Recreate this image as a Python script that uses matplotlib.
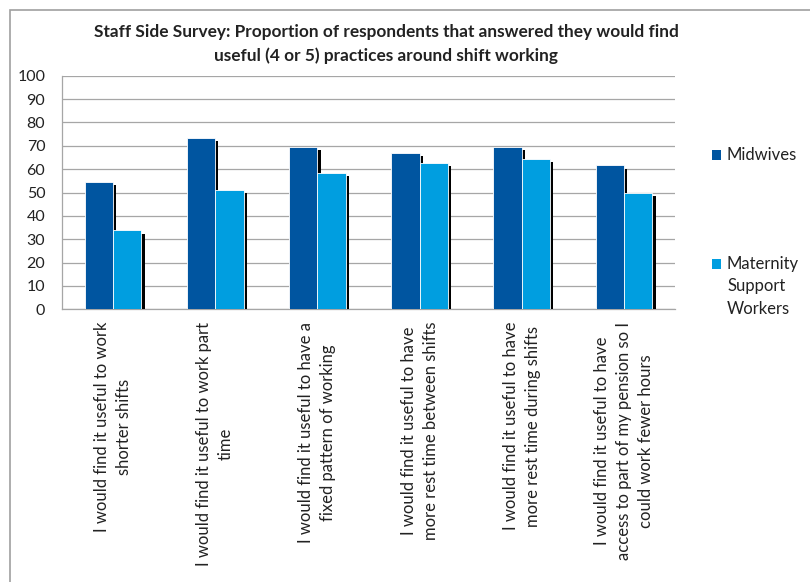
import matplotlib
matplotlib.use("Agg")
import matplotlib.pyplot as plt
import matplotlib.patheffects as pe
from matplotlib.patches import Rectangle
import numpy as np

plt.rcParams['font.family'] = ['Lato', 'DejaVu Sans']

categories = [
    "I would find it useful to work\nshorter shifts",
    "I would find it useful to work part\ntime",
    "I would find it useful to have a\nfixed pattern of working",
    "I would find it useful to have\nmore rest time between shifts",
    "I would find it useful to have\nmore rest time during shifts",
    "I would find it useful to have\naccess to part of my pension so I\ncould work fewer hours",
]
midwives = [54.5, 73.3, 69.5, 66.9, 69.5, 61.6]
msw = [33.8, 51.2, 58.5, 62.5, 64.5, 49.8]
series_names = ["Midwives", "Maternity\nSupport\nWorkers"]
yticks = list(range(0, 101, 10))
title = ("Staff Side Survey: Proportion of respondents that answered they would find\n"
         "useful (4 or 5) practices around shift working")

c_mid = "#0055A0"
c_msw = "#009EE0"
grid_c = "#A6A6A6"

fig = plt.figure(figsize=(8.10, 5.82), dpi=100)
W, H = 810, 582
ax = fig.add_axes([62 / W, 1 - 309.3 / H, (675 - 62) / W, (309.3 - 75.7) / H])

x = np.arange(len(categories))
bw = 0.278
shadow = [pe.SimplePatchShadow(offset=(2.3, -2.3), shadow_rgbFace="black", alpha=1.0), pe.Normal()]
b1 = ax.bar(x - bw / 2, midwives, bw, color=c_mid, edgecolor="white", linewidth=0.6, zorder=3)
for p in b1:
    p.set_path_effects(shadow)
b2 = ax.bar(x + bw / 2, msw, bw, color=c_msw, edgecolor="white", linewidth=0.6, zorder=4)
for p in b2:
    p.set_path_effects(shadow)

ax.set_xlim(-0.5, len(categories) - 0.5)
ax.set_ylim(0, 100)
ax.set_yticks(yticks)
ax.set_yticklabels([str(v) for v in yticks], fontsize=11.5, color="#222222")
ax.tick_params(axis="y", length=0, pad=12)
ax.yaxis.grid(True, color=grid_c, linewidth=0.9, zorder=0)
ax.set_axisbelow(True)
ax.set_xticks(x)
ax.set_xticklabels(categories, rotation=90, fontsize=12, color="#222222",
                   ha="center", va="top", multialignment="center", linespacing=1.45)
ax.tick_params(axis="x", length=0, pad=9)
for s in ["top", "right"]:
    ax.spines[s].set_visible(False)
for s in ["left", "bottom"]:
    ax.spines[s].set_color(grid_c)
    ax.spines[s].set_linewidth(0.9)

fig.text(386 / W, 1 - 44 / H, title, ha="center", va="center", fontsize=12.4,
         fontweight="bold", color="#222222", linespacing=1.5)

# legend
for (name, col, yc) in [(series_names[0], c_mid, 155), (series_names[1], c_msw, 264)]:
    fig.patches.append(Rectangle((712 / W, 1 - (yc + 4.5) / H), 9 / W, 9 / H,
                                 transform=fig.transFigure, facecolor=col, edgecolor="none"))
    fig.text(727 / W, 1 - (yc - 8) / H, name, ha="left", va="top", fontsize=12,
             color="#222222", linespacing=1.5)

# outer border
fig.patches.append(Rectangle((10 / W, -0.1), 1.2, 1.1 - 10 / H, transform=fig.transFigure,
                             fill=False, edgecolor="#A0A0A0", linewidth=1.2))

fig.savefig("out.png", dpi=100)
